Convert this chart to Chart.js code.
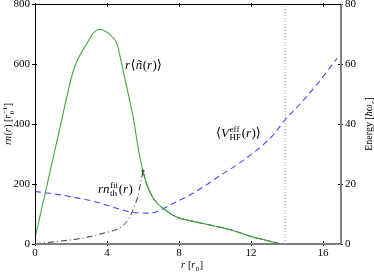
<!DOCTYPE html>
<html>
<head>
<meta charset="utf-8">
<script src="https://cdn.jsdelivr.net/npm/chart.js@4"></script>
<style>html,body{margin:0;padding:0;background:#fff}</style>
</head>
<body>
<canvas id="densityChart" width="374" height="272"></canvas>
<script>
(function () {
    "use strict";

    // r <n~(r)>  (left axis)
    var densR = [0, 0.5, 1.0, 1.5, 2.0, 2.2, 2.5, 2.9, 3.2, 3.6, 4.0, 4.3, 4.55, 4.8, 5.1, 5.45, 5.75, 5.95, 6.2, 6.5, 6.8, 7.2, 7.6, 8.0, 8.6, 9.2, 10.2, 11.0, 12.0, 13.0, 13.7, 15.0, 17.0];
    var densN = [20, 152, 285, 418, 550, 590, 630, 670, 700, 716, 706, 690, 668, 605, 522, 424, 315, 255, 200, 160, 135, 115, 98, 87, 78, 70, 57, 45, 25, 10, 0, 0, 0];

    // r n_th^fit(r)  (left axis)
    var fitR = [0, 0.3, 1.0, 1.9, 2.8, 3.6, 4.2, 4.7, 5.1, 5.4, 5.7, 5.9, 6.0];
    var fitN = [0, 3, 7, 13, 21, 33, 42, 53, 75, 107, 157, 213, 243];
    var fitTailR = [6.0, 6.2, 6.5, 6.8, 7.2, 7.6, 8.0, 8.6, 9.2, 10.2, 11.0, 12.0, 13.0, 13.7];
    var fitTailN = [243, 200, 160, 135, 115, 98, 87, 78, 70, 57, 45, 25, 10, 0];

    // <V_HF^eff(r)>  (right axis, energy)
    var energyR = [0, 0.8, 1.6, 2.4, 3.4, 4.5, 5.6, 6.4, 7.1, 7.5, 8.5, 9.35, 10.2, 11.2, 12.0, 12.7, 13.3, 13.9, 14.7, 15.7, 16.8];
    var energyE = [17.5, 16.9, 16.2, 15.3, 14.0, 12.0, 10.4, 10.3, 11.7, 13.0, 16.0, 19.0, 22.5, 26.3, 29.8, 33.2, 36.8, 41.5, 46.5, 53.5, 62.0];

    var cutoffR = 13.9;

    var xTicks = [0, 4, 8, 12, 16];
    var yTicks = [0, 200, 400, 600, 800];
    var y2Ticks = [0, 20, 40, 60, 80];

    function pts(xs, ys) {
        return xs.map(function (x, i) { return {x: x, y: ys[i]}; });
    }

    var FAM = "'Liberation Serif', 'DejaVu Serif', serif";
    function fnt(sz, it) { return (it ? "italic " : "") + sz + "px " + FAM; }

    // simple rich text: roman / italic runs and stacked sup/sub
    function rich(ctx, segs, x, y, sz, draw) {
        var cx = x;
        segs.forEach(function (s) {
            if (s.sup !== undefined || s.sub !== undefined) {
                var small = sz * 0.7;
                var w1 = 0, w2 = 0;
                if (s.sup) { ctx.font = fnt(small, s.supI); w1 = ctx.measureText(s.sup).width; if (draw) ctx.fillText(s.sup, cx, y - sz * 0.42); }
                if (s.sub) { ctx.font = fnt(small, s.subI); w2 = ctx.measureText(s.sub).width; if (draw) ctx.fillText(s.sub, cx, y + sz * 0.25); }
                cx += Math.max(w1, w2) + 0.5;
            } else {
                ctx.font = fnt(sz, s.i);
                if (draw) ctx.fillText(s.t, cx, y);
                cx += ctx.measureText(s.t).width + (s.i ? 0.5 : 0);
            }
        });
        return cx - x;
    }

    var lblDens = [{t: "r", i: 1}, {t: "\u27E8"}, {t: "\u00F1", i: 1}, {t: "("}, {t: "r", i: 1}, {t: ")\u27E9"}];
    var lblFit = [{t: "rn", i: 1}, {sup: "fit", sub: "th"}, {t: "("}, {t: "r", i: 1}, {t: ")"}];
    var lblV = [{t: "\u27E8"}, {t: "V", i: 1}, {sup: "eff", sub: "HF"}, {t: "("}, {t: "r", i: 1}, {t: ")\u27E9"}];
    var ttlY = [{t: "rn", i: 1}, {t: "("}, {t: "r", i: 1}, {t: ") ["}, {t: "r", i: 1}, {sup: "\u22121", sub: "0"}, {t: "]"}];
    var ttlY2 = [{t: "Energy ["}, {t: "\u0127\u03C9", i: 1}, {sub: "r", subI: true}, {t: "]"}];
    var ttlX = [{t: "r", i: 1}, {t: " ["}, {t: "r", i: 1}, {sub: "0"}, {t: "]"}];

    var framePlugin = {
        id: "frame",
        afterDraw: function (chart) {
            var ctx = chart.ctx, a = chart.chartArea, s = chart.scales;
            ctx.save();
            // ticks
            ctx.strokeStyle = "#000";
            ctx.lineWidth = 1;
            ctx.beginPath();
            xTicks.forEach(function (v) {
                var px = Math.round(s.x.getPixelForValue(v)) + 0.5;
                ctx.moveTo(px, a.bottom + 2); ctx.lineTo(px, a.bottom - 3);
                ctx.moveTo(px, a.top - 1); ctx.lineTo(px, a.top + 3);
            });
            yTicks.forEach(function (v) {
                var py = Math.round(s.y.getPixelForValue(v)) + 0.5;
                ctx.moveTo(a.left - 3, py); ctx.lineTo(a.left + 2, py);
            });
            y2Ticks.forEach(function (v) {
                var py = Math.round(s.y2.getPixelForValue(v)) + 0.5;
                ctx.moveTo(a.right - 3, py); ctx.lineTo(a.right + 2, py);
            });
            ctx.stroke();
            // spines
            ctx.strokeStyle = "#808080";
            ctx.lineWidth = 2;
            ctx.beginPath();
            ctx.moveTo(a.left, a.bottom); ctx.lineTo(a.right, a.bottom);
            ctx.moveTo(a.right, a.top); ctx.lineTo(a.right, a.bottom);
            ctx.stroke();
            ctx.strokeStyle = "#000";
            ctx.lineWidth = 1;
            ctx.beginPath();
            ctx.moveTo(Math.round(a.left) + 0.5, a.bottom); ctx.lineTo(Math.round(a.left) + 0.5, a.top);
            ctx.moveTo(a.left, Math.round(a.top) + 0.5); ctx.lineTo(a.right, Math.round(a.top) + 0.5);
            ctx.stroke();
            ctx.restore();
        }
    };

    var textPlugin = {
        id: "mathText",
        afterDraw: function (chart) {
            var ctx = chart.ctx, a = chart.chartArea;
            ctx.save();
            ctx.fillStyle = "#000";
            ctx.textBaseline = "alphabetic";
            rich(ctx, lblDens, 125, 69, 13, true);
            rich(ctx, lblFit, 98, 193, 13, true);
            rich(ctx, lblV, 216, 137, 13, true);

            var w = rich(ctx, ttlX, 0, 0, 10, false);
            rich(ctx, ttlX, (a.left + a.right) / 2 - w / 2 + 4, 268, 10, true);

            var cy = (a.top + a.bottom) / 2;
            w = rich(ctx, ttlY, 0, 0, 10, false);
            ctx.save();
            ctx.translate(11, cy);
            ctx.rotate(-Math.PI / 2);
            rich(ctx, ttlY, -w / 2, 0, 10, true);
            ctx.restore();

            w = rich(ctx, ttlY2, 0, 0, 10, false);
            ctx.save();
            ctx.translate(372, cy);
            ctx.rotate(-Math.PI / 2);
            rich(ctx, ttlY2, -w / 2, 0, 10, true);
            ctx.restore();
            ctx.restore();
        }
    };

    function fixTicks(list) {
        return function (scale) { scale.ticks = list.map(function (v) { return {value: v}; }); };
    }

    var tickFont = {family: FAM, size: 11};

    var canvas = document.getElementById("densityChart");
    new Chart(canvas.getContext("2d"), {
        type: "line",
        data: {
            datasets: [{
                data: pts(densR, densN),
                borderColor: "#3ea83e",
                borderWidth: 1.1,
                pointRadius: 0,
                cubicInterpolationMode: "monotone",
                yAxisID: "y",
                order: 0
            }, {
                data: pts(fitTailR, fitTailN),
                borderColor: "#222",
                borderWidth: 1,
                borderDash: [8, 2],
                pointRadius: 0,
                cubicInterpolationMode: "monotone",
                yAxisID: "y",
                order: 1
            }, {
                data: pts(fitR, fitN),
                borderColor: "#333",
                borderWidth: 1,
                borderDash: [6, 3, 1, 3],
                pointRadius: function (c) { return c.dataIndex === fitR.length - 1 ? 1.5 : 0; },
                pointBackgroundColor: "#222",
                pointBorderWidth: 0,
                cubicInterpolationMode: "monotone",
                yAxisID: "y",
                order: 2
            }, {
                data: pts(energyR, energyE),
                borderColor: "#4646ff",
                borderWidth: 1.1,
                borderDash: [6, 4],
                pointRadius: 0,
                cubicInterpolationMode: "monotone",
                yAxisID: "y2",
                order: 3
            }, {
                data: [{x: cutoffR, y: 0}, {x: cutoffR, y: 800}],
                borderColor: "#999",
                borderWidth: 1,
                borderDash: [1, 2],
                pointRadius: 0,
                yAxisID: "y",
                order: 4
            }]
        },
        options: {
            responsive: false,
            devicePixelRatio: 1,
            animation: false,
            layout: {padding: {top: 4, left: 0, right: 0, bottom: 0}},
            plugins: {legend: {display: false}, tooltip: {enabled: false}},
            scales: {
                x: {
                    type: "linear", min: 0, max: 17,
                    grid: {display: false, drawTicks: false}, border: {display: false},
                    ticks: {color: "#000", font: tickFont, padding: 3, maxRotation: 0},
                    afterBuildTicks: fixTicks(xTicks),
                    afterFit: function (s) { s.height = 28; s.paddingLeft = 0; s.paddingRight = 0; }
                },
                y: {
                    type: "linear", position: "left", min: 0, max: 800,
                    grid: {display: false, drawTicks: false}, border: {display: false},
                    ticks: {color: "#000", font: tickFont, padding: 5},
                    afterBuildTicks: fixTicks(yTicks),
                    afterFit: function (s) { s.width = 35; s.paddingTop = 0; s.paddingBottom = 0; }
                },
                y2: {
                    type: "linear", position: "right", min: 0, max: 80,
                    grid: {display: false, drawTicks: false}, border: {display: false},
                    ticks: {color: "#000", font: tickFont, padding: 4},
                    afterBuildTicks: fixTicks(y2Ticks),
                    afterFit: function (s) { s.width = 33; s.paddingTop = 0; s.paddingBottom = 0; }
                }
            }
        },
        plugins: [framePlugin, textPlugin]
    });
})();
</script>
</body>
</html>
